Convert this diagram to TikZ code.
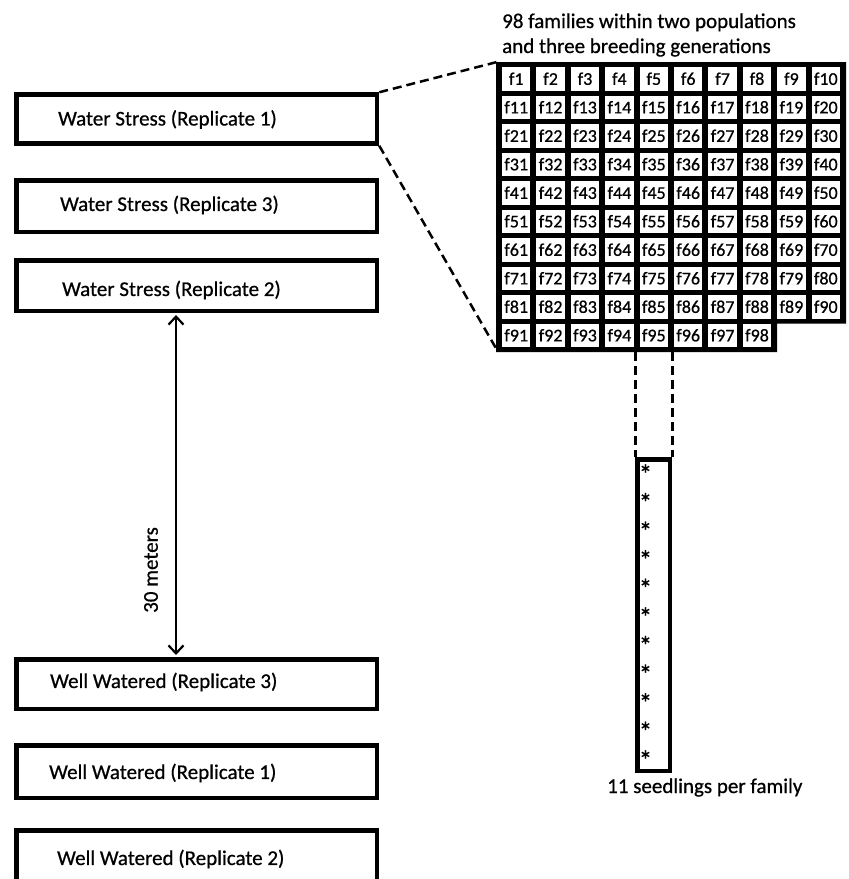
\documentclass[tikz,border=0pt]{standalone}
\usepackage{fontspec}
\setmainfont{Carlito}[FakeBold=0.7]
\usetikzlibrary{arrows.meta,calc}
\begin{document}
\begin{tikzpicture}[x=1pt,y=-1pt,
  box/.style={draw=black, line width=4.5pt, minimum width=360.5pt, inner sep=0pt},
  lbl/.style={font=\fontsize{21}{25}\selectfont, anchor=west, inner sep=0pt},
  cell/.style={fill=white, minimum width=28.4pt, minimum height=23.5pt, inner sep=0pt, font=\fontsize{18}{20}\selectfont},
  dashline/.style={line width=2.5pt, dash pattern=on 9pt off 5pt},
  dimarrow/.style={line width=2pt, shorten <=2pt, shorten >=2pt,
    {Straight Barb[length=8pt,width=15pt,line width=2.2pt]}-{Straight Barb[length=8pt,width=15pt,line width=2.2pt]}},
  star/.style={font=\fontsize{27}{29}\selectfont, inner sep=0pt, anchor=base}
]
\useasboundingbox (0,0) rectangle (849,879);
\clip (0,0) rectangle (849,879);

% left boxes
\node[box, minimum height=49pt]   (ws1) at (196.75,119) {};
\node[box, minimum height=51.5pt] (ws3) at (196.75,206) {};
\node[box, minimum height=50.5pt] (ws2) at (196.75,285.5) {};
\node[box, minimum height=49.5pt] (ww3) at (196.75,684) {};
\node[box, minimum height=52.5pt] (ww1) at (196.75,771.5) {};
\node[box, minimum height=60pt]   (ww2) at (196.75,860.5) {};

\node[lbl] (tws1) at (58,119.5) {Water Stress (Replicate 1)};
\node[lbl] (tws3) at (60,205) {Water Stress (Replicate 3)};
\node[lbl] (tws2) at (62,290) {Water Stress (Replicate 2)};
\node[lbl] (tww3) at (50,682) {Well Watered (Replicate 3)};
\node[lbl] (tww1) at (49,773) {Well Watered (Replicate 1)};
\node[lbl] (tww2) at (57,859) {Well Watered (Replicate 2)};

% distance arrow
\coordinate (ax) at (176,0);
\draw[dimarrow] (ws2.south -| ax) -- (ww3.north -| ax);
\node[lbl, anchor=center, rotate=90] (dist) at (151,570) {30 meters};

% header
\node[lbl, anchor=base west] (h1) at (502,28) {98 families within two populations};
\node[lbl, anchor=base west] (h2) at (502,53) {and three breeding generations};

% grid
\fill[black] (496,62) -- (846,62) -- (846,323.5) -- (777.2,323.5) -- (777.2,352) -- (496,352) -- cycle;
\foreach \i in {1,...,98} {
  \pgfmathtruncatemacro\r{int((\i-1)/10)}
  \pgfmathtruncatemacro\c{mod(\i-1,10)}
  \node[cell] (c\i) at ({516.2+\c*34.4},{78.75+\r*28.5}) {f\i};
}
\coordinate (gNW) at (497,62);
\coordinate (gSW) at (497,350);
\draw[dashline] (ws1.north east) -- (gNW);
\draw[dashline] (ws1.south east) -- (gSW);

% seedling column
\node[box, minimum width=32.5pt, minimum height=311.5pt] (sbox) at (653.5,615) {};
\coordinate (gb) at (0,352);
\draw[dashline, line width=3pt] (sbox.north west |- gb) -- (sbox.north west);
\draw[dashline, line width=3pt] (sbox.north east |- gb) -- (sbox.north east);
\foreach \k in {0,...,10} {
  \node[star] (s\k) at (645.5,{469+14.5+\k*28.6}) {*};
}
\node[lbl, anchor=base west] (cap) at (607,793) {11 seedlings per family};
\end{tikzpicture}
\end{document}
